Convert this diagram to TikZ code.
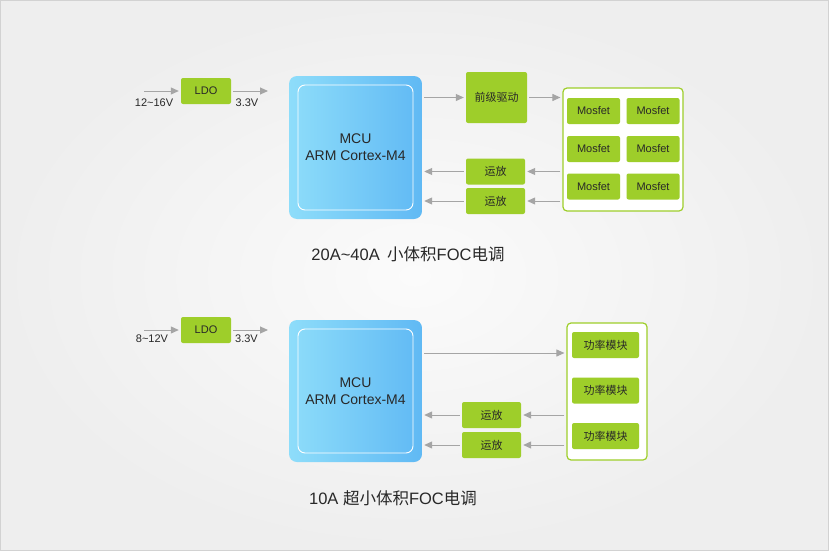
\documentclass[tikz,border=0pt]{standalone}
\usepackage{fontspec}
\setmainfont{Liberation Sans}
\newfontfamily\cjk{Noto Sans CJK SC}
\usetikzlibrary{arrows.meta,positioning}

\definecolor{boxgreen}{RGB}{158,206,42}
\definecolor{txtgray}{RGB}{40,40,40}
\definecolor{arrgray}{RGB}{165,165,165}
\definecolor{mculight}{RGB}{142,221,250}
\definecolor{mcudark}{RGB}{96,185,244}
\definecolor{bgcenter}{RGB}{251,251,251}
\definecolor{bgedge}{RGB}{238,238,238}
\definecolor{bgline}{RGB}{210,210,210}

\tikzset{
  greenbox/.style={fill=boxgreen, rounded corners=2pt, inner sep=0pt, text=txtgray,
    font=\fontsize{11}{13}\selectfont},
  groupbox/.style={draw=boxgreen, fill=white, line width=1.2pt, rounded corners=4pt, inner sep=0pt},
  mcubox/.style={left color=mculight, right color=mcudark, rounded corners=8pt, inner sep=0pt,
    minimum width=133pt, align=center, text=txtgray, font=\fontsize{14}{17}\selectfont},
  mcuinner/.style={draw=white, line width=0.9pt, rounded corners=7pt, inner sep=0pt},
  arr/.style={draw=arrgray, line width=1pt, -{Triangle[length=8pt,width=7pt]},
    shorten >=2pt, shorten <=2pt},
  lbl/.style={inner sep=0pt, text=txtgray, font=\fontsize{11}{13}\selectfont},
  title/.style={inner sep=0pt, text=txtgray, font=\fontsize{16.5}{20}\selectfont}
}

\begin{document}
\begin{tikzpicture}[x=1pt,y=-1pt]
  \useasboundingbox (0,0) rectangle (829,551);
  \shadedraw[inner color=bgcenter, outer color=bgedge, draw=bgline, line width=1pt]
    (0.5,0.5) rectangle (828.5,550.5);

  % 20A~40A
  \node[greenbox, minimum width=50pt, minimum height=26pt] (ldoA) at (206,91) {LDO};
  \coordinate (inA) at (142,91);
  \coordinate (outA) at (270,91);
  \draw[arr] (inA) -- (ldoA);
  \draw[arr] (ldoA) -- (outA);
  \node[lbl] (vinA) at (154,103) {12\textasciitilde16V};
  \node[lbl] (voutA) at (247,102.5) {3.3V};

  \node[mcubox, minimum height=143pt] (mcuA) at (355.5,147.5) {MCU\\ARM Cortex-M4};
  \node[mcuinner, minimum width=115pt, minimum height=125pt] (mcuAin) at (mcuA.center) {};

  \node[greenbox, minimum width=61pt, minimum height=51pt] (drvA) at (496.5,97.5) {\cjk 前级驱动};
  \node[greenbox, minimum width=59pt, minimum height=26pt] (opA1) at (495.5,171.5) {\cjk 运放};
  \node[greenbox, minimum width=59pt, minimum height=26pt] (opA2) at (495.5,201) {\cjk 运放};

  \node[groupbox, minimum width=120pt, minimum height=123pt] (grpA) at (623,149.5) {};
  \foreach \n/\x/\y in {1/593.5/111, 2/653/111, 3/593.5/149, 4/653/149, 5/593.5/186.5, 6/653/186.5}
    \node[greenbox, minimum width=53pt, minimum height=26pt] (mosA\n) at (\x,\y) {Mosfet};

  \draw[arr] (mcuA.east |- drvA) -- (drvA);
  \draw[arr] (drvA) -- (grpA.west |- drvA);
  \draw[arr] (grpA.west |- opA1) -- (opA1);
  \draw[arr] (grpA.west |- opA2) -- (opA2);
  \draw[arr] (opA1) -- (mcuA.east |- opA1);
  \draw[arr] (opA2) -- (mcuA.east |- opA2);

  \node[title] (titleA) at (408,254) {20A\textasciitilde40A\, {\cjk 小体积}FOC{\cjk 电调}};

  % 10A
  \node[greenbox, minimum width=50pt, minimum height=26pt] (ldoB) at (206,330) {LDO};
  \coordinate (inB) at (142,330);
  \coordinate (outB) at (270,330);
  \draw[arr] (inB) -- (ldoB);
  \draw[arr] (ldoB) -- (outB);
  \node[lbl] (vinB) at (152,338.5) {8\textasciitilde12V};
  \node[lbl] (voutB) at (246.5,338.5) {3.3V};

  \node[mcubox, minimum height=142pt] (mcuB) at (355.5,391) {MCU\\ARM Cortex-M4};
  \node[mcuinner, minimum width=115pt, minimum height=124pt] (mcuBin) at (mcuB.center) {};

  \node[greenbox, minimum width=59pt, minimum height=26pt] (opB1) at (491.5,415) {\cjk 运放};
  \node[greenbox, minimum width=59pt, minimum height=26pt] (opB2) at (491.5,445) {\cjk 运放};

  \node[groupbox, minimum width=80pt, minimum height=137pt] (grpB) at (607,391.5) {};
  \foreach \n/\y in {1/345, 2/390.5, 3/436}
    \node[greenbox, minimum width=67pt, minimum height=26pt] (pwrB\n) at (605.5,\y) {\cjk 功率模块};

  \draw[arr] (mcuB.east |- 0,353) -- (grpB.west |- 0,353);
  \draw[arr] (grpB.west |- opB1) -- (opB1);
  \draw[arr] (grpB.west |- opB2) -- (opB2);
  \draw[arr] (opB1) -- (mcuB.east |- opB1);
  \draw[arr] (opB2) -- (mcuB.east |- opB2);

  \node[title] (titleB) at (393,498) {10A {\cjk 超小体积}FOC{\cjk 电调}};
\end{tikzpicture}
\end{document}
